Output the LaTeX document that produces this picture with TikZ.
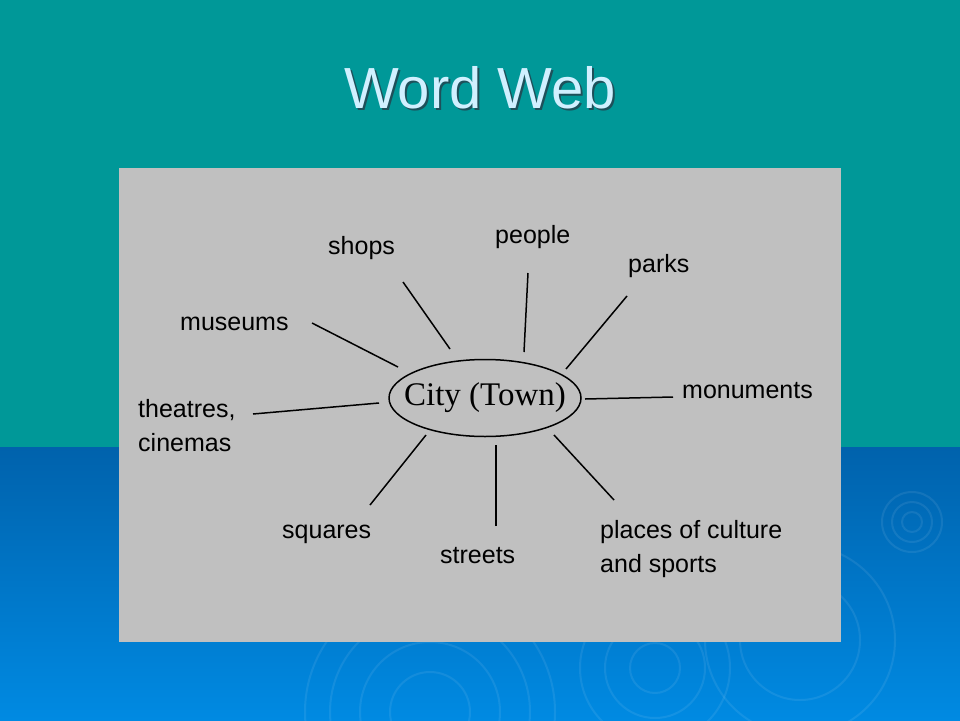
\documentclass[tikz,border=0pt]{standalone}
\usepackage{fontspec}
\setmainfont{Liberation Sans}
\newfontfamily\cityfont{Liberation Serif}
\usepackage{xcolor}
\usetikzlibrary{shapes.geometric, positioning}

\definecolor{slideteal}{RGB}{0,152,152}
\definecolor{slideblueA}{RGB}{0,98,172}
\definecolor{slideblueB}{RGB}{0,138,226}
\definecolor{panelgray}{RGB}{192,192,192}
\definecolor{titlecyan}{RGB}{208,240,255}
\definecolor{titleshadow}{RGB}{30,80,90}

\begin{document}
\begin{tikzpicture}[x=1pt, y=-1pt,
            word/.style={anchor=base west, inner sep=0pt, font=\fontsize{25}{34}\selectfont},
            word2/.style={anchor=north west, inner sep=0pt, align=left, font=\fontsize{25}{34}\selectfont},
            spoke/.style={draw=black, line width=1.5pt},
            ripple/.style={draw=white, opacity=0.08, line width=2pt}]

            \useasboundingbox (0,0) rectangle (960,720);
            \fill[slideteal] (0,0) rectangle (960,447);
            \shade[top color=slideblueA, bottom color=slideblueB] (0,447) rectangle (960,720);
            \foreach \r in {10,20,30} \draw[ripple] (912,522) circle (\r);
            \foreach \r in {40,70,100,125} \draw[ripple] (430,712) circle (\r);
            \foreach \r in {25,50,75} \draw[ripple] (655,668) circle (\r);
            \foreach \r in {60,95} \draw[ripple] (800,640) circle (\r);

            \node[anchor=base, text=titleshadow, font=\fontsize{58}{60}\selectfont] at (482,110) {Word Web};
            \node[anchor=base, text=titlecyan, font=\fontsize{58}{60}\selectfont] (title) at (480,108) {Word Web};

            \fill[panelgray] (119,168) rectangle (841,642);

            \node[draw, ellipse, line width=1.5pt, minimum width=190, minimum height=77,
                  inner xsep=-13pt, inner ysep=0pt,
                  font=\cityfont\fontsize{33}{34}\selectfont] (city) at (485,398) {City (Town)};

            \node[word] (shops) at (328,254) {shops};
            \node[word] (people) at (495,243) {people};
            \node[word] (parks) at (628,272) {parks};
            \node[word] (museums) at (180,330) {museums};
            \node[word2] (theatres) at (138,399) {theatres,\\cinemas};
            \node[word] (monuments) at (682,398) {monuments};
            \node[word] (squares) at (282,538) {squares};
            \node[word] (streets) at (440,563) {streets};
            \node[word2] (places) at (600,520) {places of culture\\and sports};

            \coordinate (museumsA) at (312,323);  \coordinate (museumsB) at (398,367);
            \coordinate (shopsA) at (403,282);    \coordinate (shopsB) at (450,349);
            \coordinate (peopleA) at (528,273);   \coordinate (peopleB) at (524,352);
            \coordinate (parksA) at (627,296);    \coordinate (parksB) at (566,369);
            \coordinate (monumentsA) at (673,397); \coordinate (monumentsB) at (585,399);
            \coordinate (theatresA) at (253,414); \coordinate (theatresB) at (379,403);
            \coordinate (squaresA) at (370,505);  \coordinate (squaresB) at (426,435);
            \coordinate (streetsA) at (496,526);  \coordinate (streetsB) at (496,445);
            \coordinate (placesA) at (614,500);   \coordinate (placesB) at (554,435);

            \foreach \w in {museums, shops, people, parks, monuments, theatres, squares, streets, places}
                \draw[spoke] (\w A) -- (\w B);
        \end{tikzpicture}
\end{document}
